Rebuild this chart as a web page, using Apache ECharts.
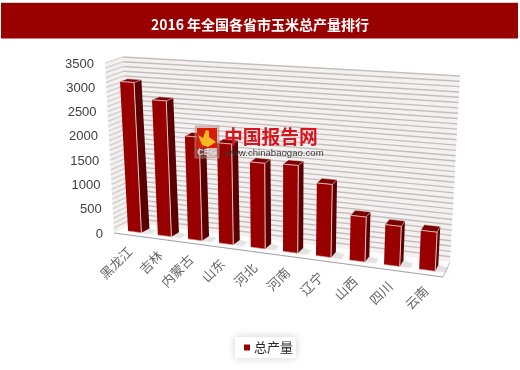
<!DOCTYPE html>
<html>
<head>
<meta charset="utf-8">
<style>
  html, body { margin: 0; padding: 0; background: #fff; }
  #chart { width: 520px; height: 370px; }
</style>
</head>
<body>
<div id="chart"></div>
<script src="https://cdn.jsdelivr.net/npm/echarts@6/dist/echarts.min.js"></script>
<script>
const chartTitle = '2016 年全国各省市玉米总产量排行'
const seriesName = '总产量'
const categories = ['黑龙江', '吉林', '内蒙古', '山东', '河北', '河南', '辽宁', '山西', '四川', '云南']
const values = [3090, 2760, 2080, 2000, 1680, 1700, 1400, 850, 750, 720]
const yTicks = [0, 500, 1000, 1500, 2000, 2500, 3000, 3500]

// corners of the 3D box on screen: [x][value][depth], depth 0 is the front
const box = [
  [[[114, 233], [134, 223]], [[105, 63], [123, 57]]],
  [[[443, 277], [450, 262]], [[453, 85], [460, 76]]]
]
const warp = 0.11 // categories get wider towards the right
const barRatio = 0.45
const barFront = 0.3
const barBack = 0.72

function mix(a, b, t) {
  return [a[0] + (b[0] - a[0]) * t, a[1] + (b[1] - a[1]) * t]
}
// x, y, z all 0..1
function project(x, y, z) {
  const u = x / (1 + warp * (1 - x))
  const bottom = mix(mix(box[0][0][0], box[0][0][1], z), mix(box[1][0][0], box[1][0][1], z), u)
  const top = mix(mix(box[0][1][0], box[0][1][1], z), mix(box[1][1][0], box[1][1][1], z), u)
  return mix(bottom, top, y)
}
function poly(points, style, z2) {
  return { type: 'polygon', shape: { points }, style, z2: z2 || 0 }
}
function line(a, b, stroke, width) {
  return { type: 'line', shape: { x1: a[0], y1: a[1], x2: b[0], y2: b[1] }, style: { stroke, lineWidth: width || 1, fill: null } }
}
function normX(params, px) {
  return (px - params.coordSys.x) / params.coordSys.width
}
function normY(params, py) {
  return (params.coordSys.y + params.coordSys.height - py) / params.coordSys.height
}

// back wall, side wall and floor with one line per 100
function renderWall(params, api) {
  const v = api.value(1)
  const y = normY(params, api.coord([0, v])[1])
  const children = []
  if (params.dataIndex === 0) {
    children.push(poly([project(0, 0, 0), project(0, 0, 1), project(0, 1, 1), project(0, 1, 0)], { fill: '#f5f0f0' }))
    children.push(poly([project(0, 0, 1), project(1, 0, 1), project(1, 1, 1), project(0, 1, 1)], { fill: '#f6f1f1' }))
    children.push(poly([project(0, 0, 0), project(1, 0, 0), project(1, 0, 1), project(0, 0, 1)], { fill: '#fff' }))
    children.push(line(project(0, 0, 0), project(1, 0, 0), '#a3a3a3', 1.2))
    children.push(line(project(1, 0, 0), project(1, 0, 1), '#c4c4c4', 1))
  }
  if (v > 0) {
    children.push(line(project(0, y, 0), project(0, y, 1), '#d0cdcd', 1.3))
    children.push(line(project(0, y, 1), project(1, y, 1), '#c4bfbf', 1.4))
  }
  return { type: 'group', children }
}

function renderBar(params, api) {
  const idx = api.value(0)
  const top = api.coord([idx, api.value(1)])
  const w = api.size([1, 0])[0] * barRatio
  const x0 = normX(params, top[0] - w / 2)
  const x1 = normX(params, top[0] + w / 2)
  const y = normY(params, top[1])
  const fl = project(x0, y, barFront), fr = project(x1, y, barFront)
  const bl = project(x0, y, barBack), br = project(x1, y, barBack)
  const fl0 = project(x0, 0, barFront), fr0 = project(x1, 0, barFront)
  const br0 = project(x1, 0, barBack)
  const s0 = project(x1 + 0.03, 0, barBack - 0.1)
  const s1 = project(x1 + 0.03, 0, barFront)
  return {
    type: 'group',
    children: [
      poly([fl0, fr0, s1, s0, br0], { fill: 'rgba(130,130,130,0.18)', shadowBlur: 9, shadowColor: 'rgba(90,90,90,0.6)' }),
      poly([fr, br, br0, fr0], { fill: '#5a0000' }),
      poly([fl, fr, br, bl], { fill: '#7d0000', stroke: '#e9d0d0', lineWidth: 0.5 }),
      poly([fl, fr, fr0, fl0], { fill: '#990000' }),
      line(fr, fr0, '#e6c4c4', 1),
      line(fl, fr, '#e6c4c4', 0.8),
      line(fl0, fr0, '#d9a6a6', 0.6)
    ]
  }
}

function renderCategoryLabel(params, api) {
  const idx = api.value(0)
  const p = project(normX(params, api.coord([idx, 0])[0]), 0, 0)
  return {
    type: 'text',
    x: p[0] + 1,
    y: p[1] + 14,
    rotation: Math.PI / 4,
    style: {
      text: categories[idx],
      align: 'right',
      verticalAlign: 'middle',
      fill: '#666666',
      font: '13px "Noto Sans CJK SC"'
    }
  }
}

function renderValueLabel(params, api) {
  const v = api.value(1)
  const p = project(0, normY(params, api.coord([0, v])[1]), 0)
  return {
    type: 'text',
    x: p[0] - 11,
    y: p[1] + 1,
    style: {
      text: String(v),
      align: 'right',
      verticalAlign: 'middle',
      fill: '#404040',
      font: '13px "Liberation Sans"'
    }
  }
}

const minorLines = []
for (let v = 0; v <= 3500; v += 100) minorLines.push([0, v])

const myChart = echarts.init(document.getElementById('chart'))
const option = {
  backgroundColor: '#fff',
  animation: false,
  title: {
    text: chartTitle,
    left: 'center',
    top: 13,
    textStyle: { color: '#fff', fontSize: 14, fontWeight: 'bold', fontFamily: '"Noto Sans CJK SC"' }
  },
  legend: {
    data: [seriesName],
    left: 235,
    top: 337,
    padding: [4, 3, 4, 9],
    icon: 'rect',
    itemWidth: 6,
    itemHeight: 6,
    itemGap: 0,
    backgroundColor: '#fff',
    shadowBlur: 8,
    shadowColor: 'rgba(0,0,0,0.18)',
    textStyle: { color: '#262626', fontSize: 13, padding: [0, 0, 0, -1], fontFamily: '"Noto Sans CJK SC"' }
  },
  grid: { left: 114, width: 330, top: 64, height: 169 },
  xAxis: { type: 'category', data: categories, show: false },
  yAxis: { type: 'value', min: 0, max: 3500, interval: 500, show: false },
  graphic: [
    { type: 'rect', shape: { x: 1, y: 3, width: 517, height: 35 }, style: { fill: '#990000' }, z: 0 },
    { type: 'rect', shape: { x: 1, y: 2, width: 517, height: 1 }, style: { fill: '#d4d0d0' }, z: 0 },
    { type: 'rect', shape: { x: 1, y: 38, width: 517, height: 1 }, style: { fill: '#cf7f7f' }, z: 0 },
    // watermark
    { type: 'rect', shape: { x: 195, y: 126, width: 24, height: 32 }, style: { fill: 'rgba(170,130,130,0.45)', stroke: 'rgba(190,150,150,0.6)' }, z: 10 },
    { type: 'rect', shape: { x: 197, y: 128, width: 20, height: 20 }, style: { fill: '#d81e06' }, z: 10 },
    { type: 'polygon', shape: { points: [[198, 135], [203, 138], [206, 130], [209, 131], [209, 137], [216, 142], [208, 147], [202, 145]] }, style: { fill: '#f5b921' }, z: 11 },
    { type: 'text', x: 207, y: 153, style: { text: 'CEG', fill: 'rgba(225,225,225,0.9)', font: 'bold 9px "Liberation Sans"', align: 'center', verticalAlign: 'middle' }, z: 11 },
    { type: 'text', x: 224, y: 137, style: { text: '中国报告网', fill: '#d8141c', font: 'bold 18.8px "Noto Sans CJK SC"', verticalAlign: 'middle' }, z: 10 },
    { type: 'text', x: 225, y: 153, style: { text: 'www.chinabaogao.com', fill: '#3a3a3a', font: '9.6px "Liberation Sans"', verticalAlign: 'middle' }, z: 10 }
  ],
  series: [
    { type: 'custom', name: 'wall', silent: true, clip: false, z: 1, renderItem: renderWall, data: minorLines },
    {
      type: 'custom',
      name: seriesName,
      clip: false,
      z: 2,
      itemStyle: { color: '#990000' },
      renderItem: renderBar,
      data: values.map((v, i) => [i, v])
    },
    { type: 'custom', name: 'xLabels', silent: true, clip: false, z: 3, renderItem: renderCategoryLabel, data: categories.map((c, i) => [i, 0]) },
    { type: 'custom', name: 'yLabels', silent: true, clip: false, z: 3, renderItem: renderValueLabel, data: yTicks.map(v => [0, v]) }
  ]
}
myChart.setOption(option)
</script>
</body>
</html>
